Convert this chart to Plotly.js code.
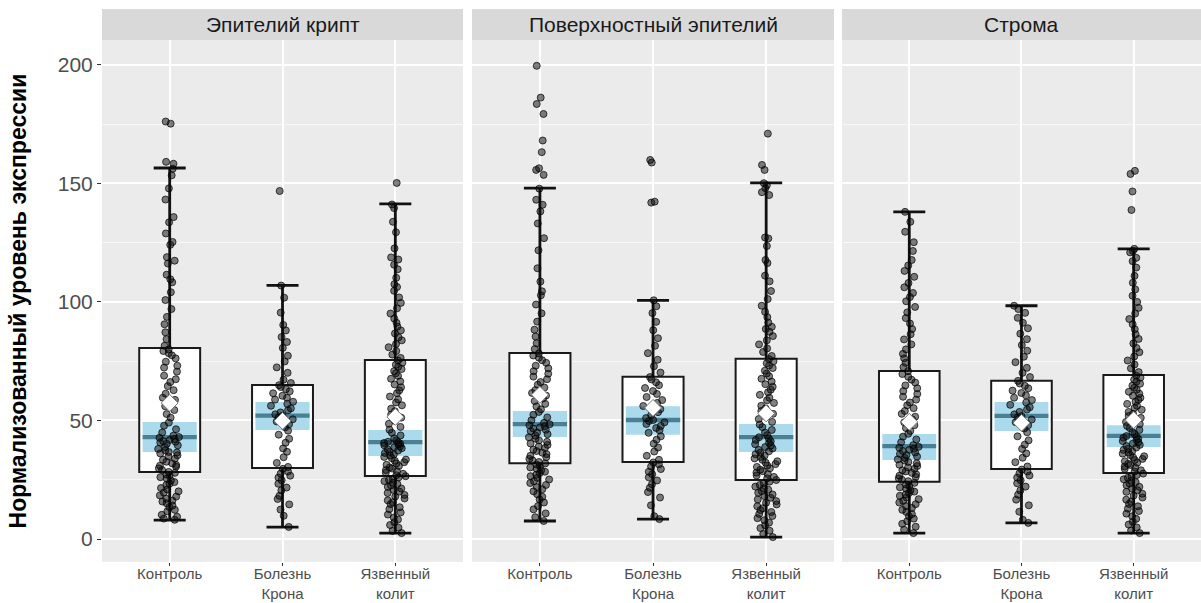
<!DOCTYPE html>
<html><head><meta charset="utf-8">
<script src="https://cdn.plot.ly/plotly-3.0.1.min.js"></script>
<style>html,body{margin:0;padding:0;background:#fff}#chart{width:1201px;height:603px}</style>
</head><body><div id="chart"></div>
<script>
// ---------- categories & facets ----------
const categories = ['Контроль', 'Болезнь<br>Крона', 'Язвенный<br>колит'];
const facets = ['Эпителий крипт', 'Поверхностный эпителий', 'Строма'];

// ---------- individual values ----------
const cryptControl = [8.1,8.6,9.4,10.2,11.7,12.3,13.5,14.1,15.1,15.8,16.2,17.0,17.9,18.4,19.6,20.1,20.9,21.5,22.8,23.3,24.0,24.7,25.5,26.1,26.8,27.2,27.9,
 28.3,29.1,29.8,30.5,30.9,31.2,31.9,32.6,33.4,33.9,34.8,35.3,36.1,36.5,36.7,37.4,38.0,38.8,39.5,40.2,40.7,41.0,41.3,41.8,42.2,42.7,43.0,
 43.6,44.9,46.3,47.8,49.1,51.2,52.7,54.4,56.0,57.9,58.7,59.6,61.3,62.8,64.5,66.2,67.4,68.9,70.6,72.3,73.1,74.8,76.2,77.5,78.4,79.3,80.0,
 81.5,84.3,87.2,90.6,93.7,97.0,100.8,104.1,108.3,109.6,111.5,116.2,117.4,118.9,124.1,125.3,128.9,133.6,135.8,143.2,147.9,153.4,156.2,158.3,159.1,175.2,176.1];
const cryptCrohn = [5.1,9.8,12.4,14.6,16.9,18.2,20.5,21.7,23.3,24.8,25.9,26.7,27.6,28.5,29.6,
 30.4,32.1,34.5,36.8,38.2,40.6,42.3,44.0,45.7,47.1,48.4,49.6,50.5,51.3,52.0,
 52.6,53.4,54.3,55.1,56.2,57.0,57.9,58.8,59.6,60.4,61.5,62.3,63.2,64.1,64.9,
 65.8,67.2,70.1,72.4,74.9,77.3,80.6,83.1,85.2,88.0,90.3,95.5,101.8,106.9,146.8];
const cryptUC = [2.5,3.4,4.8,5.9,7.1,8.2,9.0,10.3,11.2,12.6,13.4,14.7,15.5,16.3,17.1,17.9,18.6,19.4,20.0,20.7,21.3,22.0,22.6,23.2,23.8,24.4,24.9,25.5,26.0,26.5,
 26.9,27.5,28.0,28.6,29.1,29.7,30.2,30.8,31.3,31.9,32.4,33.0,33.5,34.1,34.6,35.2,35.7,36.3,36.8,37.3,37.8,38.3,38.7,39.1,39.5,39.9,40.2,40.5,40.8,41.0,
 41.6,42.5,43.7,44.8,46.1,47.3,48.6,49.8,51.2,52.5,53.9,55.0,56.4,57.6,58.9,60.1,61.5,62.7,64.0,65.2,66.5,67.6,68.8,69.9,70.8,71.7,72.6,73.5,74.4,75.3,
 76.4,77.8,79.3,80.9,82.2,83.8,85.1,86.7,88.0,89.6,91.2,93.0,95.1,97.3,99.6,101.9,104.7,106.3,107.5,110.2,113.8,115.7,117.9,118.8,122.6,129.4,133.8,139.6,141.1,150.2];

const surfControl = [7.6,9.2,10.8,12.5,13.9,15.4,16.7,17.8,18.9,20.1,21.0,21.9,22.8,23.6,24.4,25.1,25.8,26.5,27.1,27.8,28.4,29.0,29.6,30.2,30.8,31.4,31.9,
 32.5,33.2,33.8,34.5,35.1,35.8,36.4,37.1,37.7,38.4,39.0,39.7,40.3,41.0,41.6,42.3,42.9,43.6,44.2,44.9,45.5,46.1,46.6,47.1,47.6,48.0,48.4,
 49.0,50.1,51.3,52.4,53.6,54.7,55.9,57.0,58.2,59.3,60.5,61.6,62.8,63.9,65.1,66.2,67.4,68.5,69.7,70.8,72.0,73.1,74.3,75.4,76.5,77.4,78.3,
 80.1,82.6,85.4,88.3,91.7,95.2,98.9,102.8,104.5,108.6,114.2,121.8,126.9,133.1,138.2,141.0,143.1,147.8,153.6,155.7,156.4,163.2,168.1,179.3,183.5,186.2,199.6];
const surfCrohn = [8.4,9.6,14.2,17.5,19.8,21.6,23.1,24.7,26.0,27.3,28.4,29.5,30.6,31.5,32.3,
 33.4,35.1,36.9,38.6,40.2,41.9,43.3,44.8,45.9,46.8,47.7,48.5,49.2,49.8,50.2,
 51.0,52.3,53.5,54.8,56.1,57.4,58.6,59.9,61.2,62.4,63.7,64.9,66.1,67.3,68.3,
 70.2,72.9,75.6,78.4,81.5,84.7,88.1,91.6,95.3,98.2,100.7,141.9,142.3,158.8,159.9];
const surfUC = [0.8,2.1,3.5,4.6,5.8,6.9,7.9,8.8,9.7,10.6,11.4,12.2,13.0,13.8,14.6,15.3,16.0,16.7,17.4,18.1,18.8,19.5,20.2,20.8,21.4,22.1,22.8,23.5,24.2,24.9,
 25.6,26.2,26.8,27.4,28.0,28.6,29.2,29.8,30.4,31.0,31.6,32.2,32.8,33.4,34.0,34.6,35.2,35.8,36.4,37.0,37.6,38.2,38.8,39.4,40.0,40.6,41.2,41.8,42.4,42.9,
 43.8,44.9,46.0,47.2,48.3,49.4,50.6,51.7,52.8,54.0,55.1,56.2,57.4,58.5,59.6,60.8,61.9,63.0,64.2,65.3,66.4,67.6,68.7,69.8,71.0,72.1,73.2,74.1,75.0,75.9,
 77.2,78.9,80.4,82.1,83.8,85.6,87.4,88.6,89.5,91.3,93.6,95.8,98.4,101.2,104.6,108.7,111.1,116.4,117.7,123.6,126.8,127.2,145.1,146.3,148.0,149.2,150.1,155.7,157.8,171.0];

const stromaControl = [2.5,3.9,5.2,6.4,7.5,8.6,9.6,10.5,11.4,12.3,13.1,13.9,14.7,15.4,16.1,16.8,17.5,18.2,18.8,19.4,20.0,20.6,21.2,21.8,22.4,23.0,23.7,
 24.4,25.0,25.6,26.2,26.7,27.3,27.9,28.5,29.0,29.6,30.2,30.8,31.3,31.9,32.5,33.1,33.6,34.2,34.8,35.4,35.9,36.5,37.1,37.6,38.1,38.5,38.9,
 39.6,40.8,42.0,43.2,44.4,45.6,46.8,48.0,49.2,50.4,51.6,52.8,54.0,55.2,56.4,57.6,58.8,60.0,61.2,62.4,63.6,64.8,66.0,67.2,68.4,69.6,70.8,
 72.5,74.3,76.2,78.1,80.0,82.1,84.2,86.4,88.6,90.9,93.2,95.6,97.9,100.3,102.1,103.8,106.2,108.0,110.6,113.1,115.4,117.7,121.5,125.2,129.6,133.8,138.0];
const stromaCrohn = [6.8,8.1,11.5,14.2,16.6,18.7,20.5,22.1,23.5,24.8,25.9,26.8,27.7,28.5,29.3,
 30.6,32.4,34.3,36.1,38.0,39.8,41.6,43.3,45.0,46.6,48.0,49.3,50.4,51.3,51.9,
 52.6,53.6,54.6,55.6,56.6,57.6,58.6,59.6,60.6,61.6,62.6,63.6,64.6,65.6,66.7,
 68.3,70.1,72.2,74.6,76.9,79.4,81.8,84.3,86.6,88.9,91.2,93.3,95.4,97.0,98.4];
const stromaUC = [2.5,3.6,4.9,6.1,7.3,8.5,9.6,10.7,11.8,12.8,13.8,14.8,15.7,16.6,17.5,18.3,19.1,19.9,20.6,21.3,22.0,22.7,23.4,24.0,24.6,25.2,25.8,26.4,27.0,27.6,
 28.5,29.0,29.6,30.1,30.6,31.2,31.7,32.2,32.8,33.3,33.8,34.4,34.9,35.4,36.0,36.5,37.0,37.6,38.1,38.6,39.2,39.7,40.2,40.8,41.3,41.8,42.3,42.7,43.1,43.4,
 44.3,45.1,46.0,46.8,47.7,48.5,49.4,50.2,51.1,51.9,52.8,53.6,54.5,55.3,56.2,57.0,57.9,58.7,59.6,60.4,61.3,62.1,63.0,63.8,64.7,65.5,66.4,67.2,68.1,68.9,
 70.4,72.0,73.6,75.3,77.0,78.8,80.6,82.5,84.4,86.4,88.5,90.6,92.8,95.1,97.5,100.0,102.6,105.3,108.1,111.0,114.5,117.2,118.6,120.9,121.5,122.4,138.8,146.6,154.0,155.3];

// ---------- summary statistics ----------
const cryptQ1 = [28.3, 30.0, 26.6];
const cryptMedian = [43.0, 52.0, 40.9];
const cryptQ3 = [80.6, 65.0, 75.5];
const cryptLower = [8.0, 5.0, 2.5];
const cryptUpper = [156.5, 107.0, 141.4];
const cryptMean = [57.4, 49.8, 51.5];
const cryptCiLow = [36.7, 46.0, 35.0];
const cryptCiHigh = [49.4, 57.8, 46.0];

const surfQ1 = [32.0, 32.5, 24.9];
const surfMedian = [48.5, 50.2, 43.0];
const surfQ3 = [78.5, 68.4, 76.0];
const surfLower = [7.6, 8.4, 0.8];
const surfUpper = [148.0, 100.7, 150.2];
const surfMean = [60.8, 55.3, 53.0];
const surfCiLow = [43.0, 44.0, 36.7];
const surfCiHigh = [54.0, 56.0, 48.5];

const stromaQ1 = [24.1, 29.5, 27.8];
const stromaMedian = [39.2, 51.9, 43.5];
const stromaQ3 = [70.9, 66.8, 69.2];
const stromaLower = [2.5, 6.8, 2.5];
const stromaUpper = [138.0, 98.4, 122.4];
const stromaMean = [49.4, 49.0, 50.2];
const stromaCiLow = [33.3, 45.6, 38.8];
const stromaCiHigh = [44.3, 57.8, 48.0];

const yTicks = [0, 50, 100, 150, 200];

// ---------- build ----------
const panels = [
  {groups: [cryptControl, cryptCrohn, cryptUC], q1: cryptQ1, med: cryptMedian, q3: cryptQ3, lo: cryptLower, hi: cryptUpper, mean: cryptMean, ciLo: cryptCiLow, ciHi: cryptCiHigh},
  {groups: [surfControl, surfCrohn, surfUC], q1: surfQ1, med: surfMedian, q3: surfQ3, lo: surfLower, hi: surfUpper, mean: surfMean, ciLo: surfCiLow, ciHi: surfCiHigh},
  {groups: [stromaControl, stromaCrohn, stromaUC], q1: stromaQ1, med: stromaMedian, q3: stromaQ3, lo: stromaLower, hi: stromaUpper, mean: stromaMean, ciLo: stromaCiLow, ciHi: stromaCiHigh}
];

const BOX_W = 0.54, BAND_W = 0.48, MED_HALF = 0.9;
const traces = [];
panels.forEach((p, i) => {
  const xa = i === 0 ? 'x' : 'x' + (i + 1);
  const ya = i === 0 ? 'y' : 'y' + (i + 1);
  // whiskers (error bars on an invisible bar)
  traces.push({type: 'bar', x: categories, y: p.med, base: 0, width: BOX_W, xaxis: xa, yaxis: ya,
    marker: {color: 'rgba(0,0,0,0)', line: {width: 0}}, hoverinfo: 'skip', showlegend: false,
    error_y: {type: 'data', symmetric: false,
      array: p.hi.map((h, k) => h - p.med[k]), arrayminus: p.lo.map((l, k) => p.med[k] - l),
      color: '#111111', thickness: 2.8, width: 16}});
  // box body
  traces.push({type: 'bar', x: categories, base: p.q1, y: p.q3.map((q, k) => q - p.q1[k]), width: BOX_W,
    xaxis: xa, yaxis: ya, marker: {color: '#ffffff', line: {color: '#1a1a1a', width: 2}},
    hoverinfo: 'skip', showlegend: false});
  // median confidence band
  traces.push({type: 'bar', x: categories, base: p.ciLo, y: p.ciHi.map((h, k) => h - p.ciLo[k]), width: BAND_W,
    xaxis: xa, yaxis: ya, marker: {color: '#abdaed', line: {width: 0}}, hoverinfo: 'skip', showlegend: false});
  // median line
  traces.push({type: 'bar', x: categories, base: p.med.map(m => m - MED_HALF), y: p.med.map(() => 2 * MED_HALF), width: BAND_W,
    xaxis: xa, yaxis: ya, marker: {color: '#4a7f94', line: {width: 0}}, hoverinfo: 'skip', showlegend: false});
  // jittered points
  const xs = [], ys = [];
  p.groups.forEach((g, k) => g.forEach(v => { xs.push(categories[k]); ys.push(v); }));
  traces.push({type: 'box', x: xs, y: ys, xaxis: xa, yaxis: ya, boxpoints: 'all', jitter: 0.4, pointpos: 0,
    width: BOX_W, fillcolor: 'rgba(0,0,0,0)', line: {color: 'rgba(0,0,0,0)', width: 0},
    marker: {color: 'rgba(15,15,15,0.52)', size: 7, line: {color: 'rgba(0,0,0,0.7)', width: 1}},
    hoverinfo: 'y', showlegend: false});
  // means
  traces.push({type: 'scatter', mode: 'markers', x: categories, y: p.mean, xaxis: xa, yaxis: ya,
    marker: {symbol: 'diamond', size: 13, color: '#ffffff', line: {color: '#777777', width: 1}},
    showlegend: false, hoverinfo: 'y'});
});

const domains = [[0, 0.3285], [0.3367, 0.6661], [0.6733, 1]];
const yRange = [-9.7, 210.5];
const layout = {
  width: 1201, height: 603,
  margin: {l: 102, r: 0, t: 40, b: 41},
  paper_bgcolor: '#ffffff', plot_bgcolor: '#ebebeb',
  barmode: 'overlay', boxmode: 'overlay', showlegend: false,
  font: {family: 'Liberation Sans, Arial, sans-serif', color: '#4d4d4d'},
  shapes: [], annotations: []
};
domains.forEach((d, i) => {
  const sfx = i === 0 ? '' : String(i + 1);
  layout['xaxis' + sfx] = {domain: d, anchor: 'y' + sfx, type: 'category', range: [-0.6, 2.6],
    showgrid: true, gridcolor: '#ffffff', gridwidth: 2, zeroline: false, showline: false,
    ticks: 'outside', ticklen: 3, tickwidth: 1, tickcolor: '#333333', ticklabelstandoff: -5,
    tickfont: {size: 15, color: '#4d4d4d'}, fixedrange: true};
  layout['yaxis' + sfx] = {domain: [0, 1], anchor: 'x' + sfx, range: yRange, tickvals: yTicks,
    showgrid: true, gridcolor: '#ffffff', gridwidth: 2, zeroline: false, showline: false,
    minor: {tickvals: [25, 75, 125, 175], showgrid: true, gridcolor: '#f7f7f7', gridwidth: 1, ticks: ''},
    ticks: i === 0 ? 'outside' : '', ticklen: 4, tickwidth: 1, tickcolor: '#333333',
    showticklabels: i === 0, tickfont: {size: 21, color: '#4d4d4d'}, fixedrange: true};
  layout.shapes.push({type: 'rect', xref: 'paper', yref: 'paper', x0: d[0], x1: d[1], y0: 1, y1: 1 + 31 / 522,
    fillcolor: '#d9d9d9', line: {width: 0}, layer: 'below'});
  layout.annotations.push({xref: 'paper', yref: 'paper', x: (d[0] + d[1]) / 2, y: 1 + 15.5 / 522,
    xanchor: 'center', yanchor: 'middle', showarrow: false, text: facets[i],
    font: {size: 21, color: '#1a1a1a'}});
});
layout.yaxis.title = {text: 'Нормализованный уровень экспрессии', standoff: 24,
  font: {size: 23, color: '#000000', weight: 'bold'}};

Plotly.newPlot('chart', traces, layout, {displayModeBar: false, staticPlot: true});
</script>
</body></html>
